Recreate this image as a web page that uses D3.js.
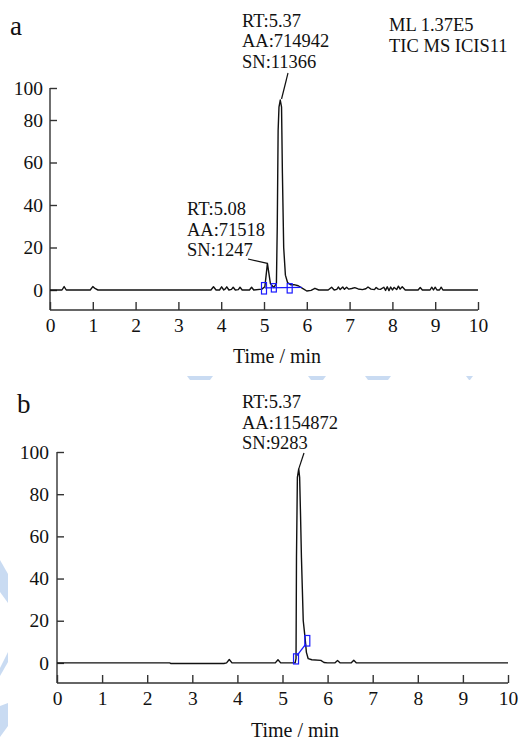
<!DOCTYPE html>
<html>
<head>
<meta charset="utf-8">
<script src="https://cdn.jsdelivr.net/npm/d3@7/dist/d3.min.js"></script>
<style>
  html, body { margin: 0; padding: 0; background: #fff; }
  svg { display: block; }
  text { font-family: "Liberation Serif", "Times New Roman", serif; fill: #111; }
</style>
</head>
<body>
<svg id="chart" width="527" height="742"></svg>
<script>
// ---------- DATA ----------
const xTicks = [0, 1, 2, 3, 4, 5, 6, 7, 8, 9, 10];
const yTicks = [0, 20, 40, 60, 80, 100];

// Panel a: TIC trace (time in min, relative abundance %)
const timeA = [0, 0.28, 0.33, 0.38, 0.94, 1.0, 1.06, 1.12, 3.76, 3.82, 3.88, 3.96, 4.01, 4.06, 4.09, 4.13, 4.18, 4.24, 4.28, 4.33, 4.40, 4.44, 4.49, 4.66, 4.71, 4.76, 4.95, 5.02, 5.08, 5.15, 5.23, 5.29, 5.31, 5.33, 5.35, 5.38, 5.41, 5.43, 5.46, 5.5, 5.55, 5.62, 5.7, 5.8, 5.9, 6.0, 6.1, 6.19, 6.28, 6.5, 6.58, 6.64, 6.7, 6.74, 6.78, 6.84, 6.88, 6.93, 6.98, 7.05, 7.12, 7.2, 7.3, 7.38, 7.43, 7.5, 7.58, 7.62, 7.67, 7.72, 7.8, 7.84, 7.88, 7.92, 7.96, 8.0, 8.04, 8.1, 8.14, 8.18, 8.23, 8.3, 8.36, 8.6, 8.65, 8.7, 8.88, 8.92, 8.96, 9.0, 9.04, 9.1, 9.14, 9.18, 9.23, 10];
const intensityA = [0, 0, 1.6, 0, 0, 1.6, 0.6, 0, 0, 1.5, 0, 0, 1.5, 0, 0.4, 1.5, 0, 0.3, 1.3, 0, 0.2, 1.3, 0, 0, 1.3, 0, 0.4, 1.5, 12.5, 3, 1.2, 3, 30, 75, 88, 92.5, 88, 55, 20, 7, 3.5, 2.5, 2.5, 2, 0.8, -0.5, -0.2, 0.8, 0, 0, 1.3, 0, 0.3, 1.4, 0.2, 1.4, 0.3, 1.3, 0.4, 0.7, 1.1, 0.5, 0.2, 0.6, 1.4, 0.4, 0.2, 1.2, 0.4, 0.3, 1.3, -0.2, 1.5, -0.3, 1.4, 0, 1.2, 0.2, 1.8, 0.4, 1.5, 0, 0, 0, 1.2, 0, 0, 1.3, 0, 1.3, 0, 0, 1.3, 0, 0, 0];

// Panel a: integration markers (time, low %, high %)
const markTimeA = [5.0, 5.23, 5.6];
const markLowA = [-2, -1, -1.5];
const markHighA = [3.5, 3, 3];
const baseLineTimeA = [5.02, 5.88];
const baseLineValA = [1, 1.2];

// Panel b: TIC trace
const timeB = [0, 2.5, 2.52, 3.7, 3.76, 3.82, 3.88, 4.84, 4.9, 4.96, 5.28, 5.30, 5.31, 5.33, 5.36, 5.38, 5.40, 5.42, 5.44, 5.46, 5.50, 5.53, 5.57, 5.65, 5.85, 5.92, 6.0, 6.16, 6.22, 6.28, 6.52, 6.58, 6.64, 10];
const intensityB = [0, 0, -0.3, -0.3, 0, 1.6, 0, 0, 1.5, 0, 0, 2, 50, 88, 92, 88, 70, 50, 35, 20, 12, 5, 2, 1.5, 1.2, 0.2, 0, 0, 1.1, 0, 0, 1.3, 0, 0];

// Panel b: integration markers
const markTimeB = [5.30, 5.55];
const markLowB = [-0.5, 8];
const markHighB = [4.3, 13];
const baseLineTimeB = [5.32, 5.52];
const baseLineValB = [3.5, 9];

// Annotations
const annotA1 = ["RT:5.37", "AA:714942", "SN:11366"];
const annotA2 = ["RT:5.08", "AA:71518", "SN:1247"];
const annotB1 = ["RT:5.37", "AA:1154872", "SN:9283"];
const infoA = ["ML 1.37E5", "TIC MS ICIS11"];
const xTitle = "Time / min";
const panelLabels = ["a", "b"];

// ---------- DRAW ----------
const svg = d3.select("#chart");

// faint watermark shapes
const wm = svg.append("g").attr("fill", "#c9dbf2");
[[187, 213], [308, 326], [365, 391], [466, 473]].forEach(([a, b]) => {
  wm.append("polygon").attr("points", `${a},376 ${b},376 ${b - 3},380 ${a + 3},380`);
});
wm.append("polygon").attr("points", "0,560 8,574 8,603 0,592");
wm.append("polygon").attr("points", "0,668 8,652 8,662 0,676");
wm.append("polygon").attr("points", "0,706 8,703 8,726 0,737");

function panel(cfg) {
  const g = svg.append("g");
  const x = d3.scaleLinear().domain([0, 10]).range([cfg.x0, cfg.x1]);
  const y = d3.scaleLinear().domain(cfg.yDomain).range(cfg.yRange);

  // x axis
  const xa = g.append("g").attr("transform", `translate(0,${cfg.yAxisBottom})`)
    .call(d3.axisBottom(x).tickValues(xTicks).tickFormat(d3.format("d"))
      .tickSize(-8).tickSizeOuter(0).tickPadding(8));
  // y axis
  const ya = g.append("g").attr("transform", `translate(${cfg.x0},0)`)
    .call(d3.axisLeft(y).tickValues(yTicks).tickFormat(d3.format("d"))
      .tickSize(-7).tickSizeOuter(0).tickPadding(cfg.yPad));
  [xa, ya].forEach(a => {
    a.selectAll("path, line").attr("stroke", "#333").attr("stroke-width", 1.4);
    a.selectAll("text").style("font-family", '"Liberation Serif", serif')
      .style("font-size", "19.5px").attr("fill", "#111");
  });
  // y axis extends down to the x axis
  ya.select("path.domain").attr("d", `M0,${y(100)}V${cfg.yAxisBottom}`);
  xa.select("path.domain").attr("d", `M${cfg.x0},0H${cfg.x1}`);

  // trace
  const line = d3.line().x(d => x(d[0])).y(d => y(d[1]));
  g.append("path").datum(d3.zip(cfg.time, cfg.intensity))
    .attr("d", line).attr("fill", "none").attr("stroke", "#111")
    .attr("stroke-width", 1.4).attr("stroke-linejoin", "round");

  // integration baseline + markers
  g.append("path").datum(d3.zip(cfg.blT, cfg.blV)).attr("d", line)
    .attr("fill", "none").attr("stroke", "#1a1aff").attr("stroke-width", 1.3);
  cfg.mT.forEach((t, i) => {
    const cx = x(t);
    g.append("rect").attr("x", cx - 2.5).attr("width", 5)
      .attr("y", y(cfg.mH[i])).attr("height", y(cfg.mL[i]) - y(cfg.mH[i]))
      .attr("fill", "none").attr("stroke", "#1a1aff").attr("stroke-width", 1.2);
  });

  // axis title
  g.append("text").attr("x", cfg.titleX).attr("y", cfg.titleY)
    .attr("text-anchor", "middle").style("font-size", "20px").text(xTitle);
  // panel label
  g.append("text").attr("x", cfg.labX).attr("y", cfg.labY)
    .style("font-size", "27px").text(cfg.label);

  return { g, x, y };
}

// multi-line annotation
function annot(g, lines, x0, baselines) {
  lines.forEach((s, i) => {
    g.append("text").attr("x", x0).attr("y", baselines[i])
      .style("font-size", "18.5px").text(s);
  });
}

// Panel a (axis compressed between 80 and 100 as in the original)
const A = panel({
  x0: 50, x1: 478, yDomain: [-10, 0, 80, 100], yRange: [310, 290, 120, 88],
  yAxisBottom: 310, yPad: 7,
  time: timeA, intensity: intensityA,
  mT: markTimeA, mL: markLowA, mH: markHighA, blT: baseLineTimeA, blV: baseLineValA,
  titleX: 277, titleY: 363, labX: 10, labY: 35, label: panelLabels[0]
});
annot(A.g, annotA1, 242, [26.5, 47, 67.5]);
annot(A.g, annotA2, 187, [215, 235.5, 256]);
annot(A.g, infoA, 389, [31, 51.5]);
// leader lines
A.g.append("path").attr("d", `M288,73L${A.x(5.41)},${A.y(92.5) - 1}`)
  .attr("stroke", "#111").attr("stroke-width", 1.2).attr("fill", "none");
A.g.append("path").attr("d", `M248,259L${A.x(5.08)},${A.y(12.5)}`)
  .attr("stroke", "#111").attr("stroke-width", 1.2).attr("fill", "none");

// Panel b
const B = panel({
  x0: 57, x1: 508, yDomain: [-10, 100], yRange: [684, 452],
  yAxisBottom: 683, yPad: 8,
  time: timeB, intensity: intensityB,
  mT: markTimeB, mL: markLowB, mH: markHighB, blT: baseLineTimeB, blV: baseLineValB,
  titleX: 295, titleY: 737, labX: 17, labY: 413, label: panelLabels[1]
});
annot(B.g, annotB1, 242, [408, 428.5, 449]);
B.g.append("path").attr("d", `M304,453L${B.x(5.36)},${B.y(92)}`)
  .attr("stroke", "#111").attr("stroke-width", 1.2).attr("fill", "none");
</script>
</body>
</html>
